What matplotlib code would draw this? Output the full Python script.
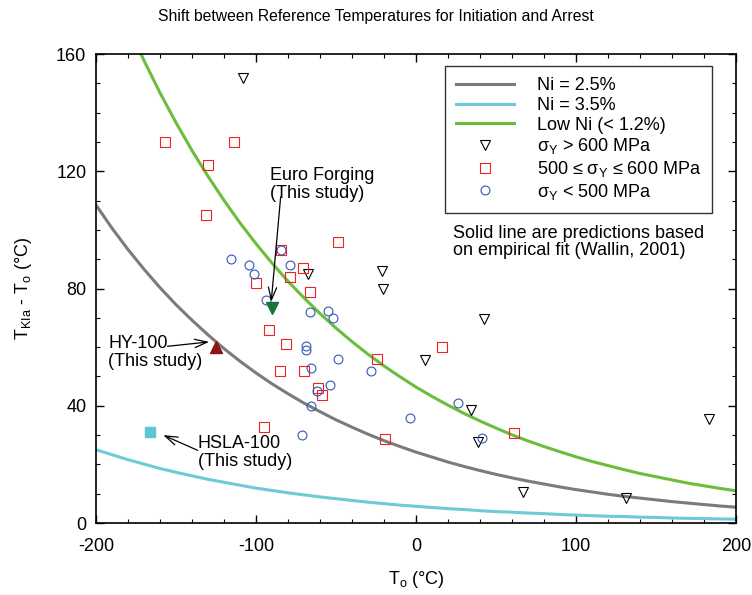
import matplotlib
matplotlib.use('Agg')
from matplotlib import pyplot as plt

plt.rcParams['font.family'] = ['Liberation Sans', 'DejaVu Sans']
plt.rcParams['mathtext.fontset'] = 'custom'
plt.rcParams['mathtext.rm'] = 'Liberation Sans'
plt.rcParams['mathtext.it'] = 'Liberation Sans'
plt.rcParams['axes.unicode_minus'] = False

# prediction curves (every 10 C)
t_curve = list(range(-200, 201, 10))
ni25 = [108.5, 100.6, 93.3, 86.6, 80.3, 74.5, 69.2, 64.2, 59.5, 55.2, 51.2,
        47.5, 44.1, 40.9, 38.0, 35.2, 32.7, 30.3, 28.1, 26.1, 24.2,
        22.5, 20.8, 19.3, 17.9, 16.6, 15.4, 14.3, 13.3, 12.3, 11.4,
        10.6, 9.8, 9.1, 8.5, 7.9, 7.3, 6.8, 6.3, 5.8, 5.4]
ni35 = [25.0, 23.3, 21.6, 20.1, 18.6, 17.3, 16.1, 14.9, 13.9, 12.9, 11.9,
        11.1, 10.3, 9.6, 8.9, 8.3, 7.7, 7.1, 6.6, 6.1, 5.7,
        5.3, 4.9, 4.6, 4.2, 3.9, 3.7, 3.4, 3.2, 2.9, 2.7,
        2.5, 2.3, 2.2, 2.0, 1.9, 1.7, 1.6, 1.5, 1.4, 1.3]
low_ni = [195.8, 182.2, 169.6, 157.8, 146.8, 136.6, 127.1, 118.3, 110.1, 102.4, 95.3,
          88.7, 82.5, 76.8, 71.5, 66.5, 61.9, 57.6, 53.6, 49.9, 46.4,
          43.2, 40.2, 37.4, 34.8, 32.4, 30.1, 28.0, 26.1, 24.3, 22.6,
          21.0, 19.6, 18.2, 16.9, 15.8, 14.7, 13.6, 12.7, 11.8, 11.0]

# sigma_Y > 600 MPa
hi_t = [-108, -67.5, -21, -20.5, 5.5, 42.5, 34.5, 38.5, 67, 131, 183]
hi_d = [152, 85, 86, 80, 55.5, 69.5, 38.5, 27.5, 10.5, 8.5, 35.5]

# 500 <= sigma_Y <= 600 MPa
mid_t = [-157, -114, -130, -131, -49, -84.5, -70.5, -78.5, -100, -66.5, -92,
         -81, -85, -70, -61, -58.5, -24.5, -95, -19.5, 16.5, 61.5]
mid_d = [130, 130, 122, 105, 96, 93, 87, 84, 82, 79, 66,
         61, 52, 52, 46, 43.7, 56, 32.7, 28.7, 60, 30.7]

# sigma_Y < 500 MPa
lo_t = [-115.5, -104.5, -101, -84.5, -79, -93.5, -66.5, -55, -51.7, -69, -69,
        -65.5, -48.5, -28, -53.5, -62, -65.5, -71.5, -4, 26.3, 41]
lo_d = [90, 88, 85, 93, 88, 76, 72, 72.3, 70, 60.3, 59,
        53, 56, 52, 47, 45, 40, 30, 36, 41, 29]

# this study
euro_t, euro_d = -90, 73.5
hy_t, hy_d = -125, 60
hsla_t, hsla_d = -166.5, 31

fig = plt.figure(figsize=(7.52, 5.95), dpi=100)
ax = fig.add_axes([0.1277, 0.121, 0.851, 0.788])

ax.plot(t_curve, ni25, color='#7b7b7b', lw=2.2, label='Ni = 2.5%')
ax.plot(t_curve, ni35, color='#6ccbd8', lw=2.2, label='Ni = 3.5%')
ax.plot(t_curve, low_ni, color='#6bbd3c', lw=2.2, label='Low Ni (< 1.2%)')

ax.plot(hi_t, hi_d, 'v', ms=7.2, mfc='none', mec='black', mew=0.8,
        label='σ$_\\mathregular{Y}$ > 600 MPa')
ax.plot(mid_t, mid_d, 's', ms=6.7, mfc='none', mec='#ee2222', mew=0.8,
        label='500 ≤ σ$_\\mathregular{Y}$ ≤ 600 MPa')
ax.plot(lo_t, lo_d, 'o', ms=6.4, mfc='none', mec='#3356b8', mew=0.8,
        label='σ$_\\mathregular{Y}$ < 500 MPa')

ax.plot(euro_t, euro_d, 'v', ms=8, color='#17753a')
ax.plot(hy_t, hy_d, '^', ms=8, color='#8b1414')
ax.plot(hsla_t, hsla_d, 's', ms=6.5, color='#5cc5d6')

arrow = dict(arrowstyle='->,head_length=0.9,head_width=0.3', color='black', lw=0.9,
             shrinkA=0, shrinkB=0)
ax.text(-91.5, 121.5, 'Euro Forging\n(This study)', fontsize=13, va='top', ha='left',
        linespacing=1.05)
ax.annotate('', xy=(-90.5, 75.5), xytext=(-84.6, 111.3), arrowprops=arrow)
ax.text(-192.4, 64, 'HY-100\n(This study)', fontsize=13, va='top', ha='left',
        linespacing=1.05)
ax.annotate('', xy=(-129.3, 61.8), xytext=(-155.3, 60.3), arrowprops=arrow)
ax.text(-136.3, 30, 'HSLA-100\n(This study)', fontsize=13, va='top', ha='left',
        linespacing=1.05)
ax.annotate('', xy=(-158, 30), xytext=(-136.5, 24.8), arrowprops=arrow)

ax.text(0.558, 0.636, 'Solid line are predictions based\non empirical fit (Wallin, 2001)',
        transform=ax.transAxes, fontsize=13, va='top', ha='left', linespacing=1.05)

leg = ax.legend(loc='upper right', bbox_to_anchor=(0.9625, 0.974), borderaxespad=0,
                fontsize=13, frameon=True, fancybox=False, edgecolor='black',
                handlelength=3.2, handletextpad=1.3, labelspacing=0.15,
                borderpad=0.6, numpoints=1)
leg.get_frame().set_linewidth(1.0)

ax.set_xlim(-200, 200)
ax.set_ylim(0, 160)
ax.set_xticks([-200, -100, 0, 100, 200])
ax.set_xticks(range(-200, 201, 20), minor=True)
ax.set_yticks([0, 40, 80, 120, 160])
ax.set_yticks(range(0, 161, 10), minor=True)
ax.tick_params(which='both', direction='in', top=True, right=True, labelsize=13)
ax.tick_params(which='major', length=6, width=1)
ax.tick_params(axis='x', which='major', pad=11)
ax.tick_params(axis='y', which='major', pad=7)
ax.tick_params(which='minor', length=3, width=0.8)
for s in ax.spines.values():
    s.set_linewidth(1.2)

ax.set_xlabel('T$_\\mathregular{o}$ (°C)', fontsize=13, labelpad=10)
ax.set_ylabel('T$_\\mathregular{KIa}$ - T$_\\mathregular{o}$ (°C)', fontsize=13, labelpad=16)
fig.text(0.5, 1 - 16 / 595, 'Shift between Reference Temperatures for Initiation and Arrest',
         fontsize=11.3, ha='center', va='center')

plt.savefig('out.png', dpi=100)
